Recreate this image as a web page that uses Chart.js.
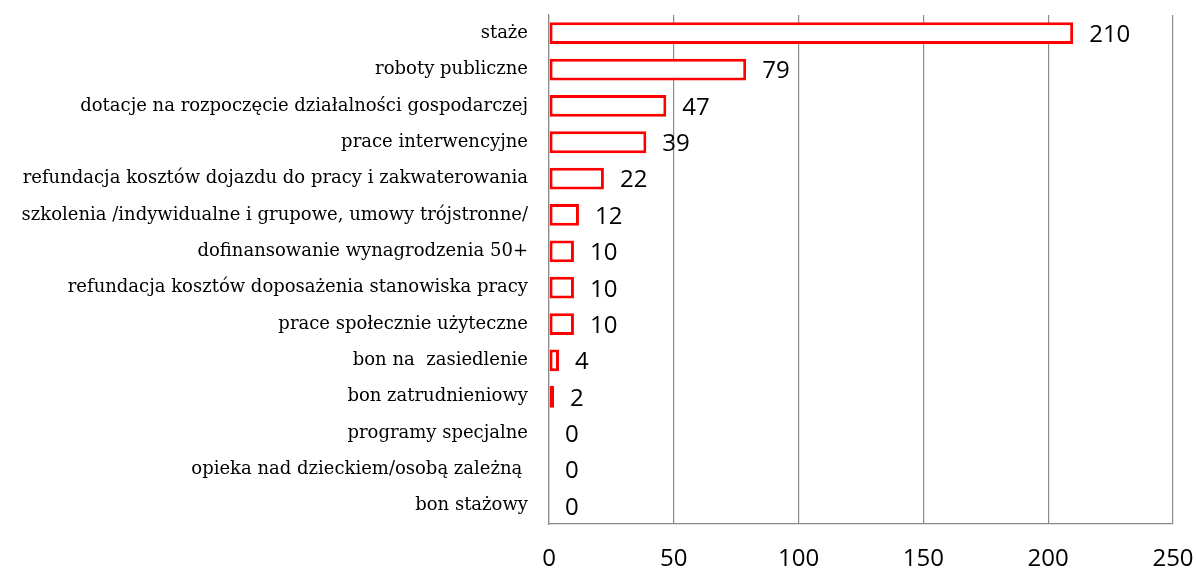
<!DOCTYPE html>
<html>
<head>
<meta charset="utf-8">
<script src="https://cdn.jsdelivr.net/npm/chart.js@4"></script>
<style>
html,body{margin:0;padding:0;background:#fff;}
canvas{display:block;}
</style>
</head>
<body>
<canvas id="c" width="1196" height="569"></canvas>
<script>
const categories = [
  "staże",
  "roboty publiczne",
  "dotacje na rozpoczęcie działalności gospodarczej",
  "prace interwencyjne",
  "refundacja kosztów dojazdu do pracy i zakwaterowania",
  "szkolenia /indywidualne i grupowe, umowy trójstronne/",
  "dofinansowanie wynagrodzenia 50+",
  "refundacja kosztów doposażenia stanowiska pracy",
  "prace społecznie użyteczne",
  "bon na  zasiedlenie",
  "bon zatrudnieniowy",
  "programy specjalne",
  "opieka nad dzieckiem/osobą zależną ",
  "bon stażowy"
];
const values = [210, 79, 47, 39, 22, 12, 10, 10, 10, 4, 2, 0, 0, 0];
const xTicks = [0, 50, 100, 150, 200, 250];

const valueLabels = {
  id: 'valueLabels',
  afterDatasetsDraw(chart) {
    const ctx = chart.ctx;
    const meta = chart.getDatasetMeta(0);
    ctx.save();
    ctx.font = '24px "Open Sans", sans-serif';
    ctx.fillStyle = '#000';
    ctx.textAlign = 'left';
    ctx.textBaseline = 'middle';
    meta.data.forEach((el, i) => {
      ctx.fillText(String(values[i]), el.x + 16, el.y + 2);
    });
    ctx.restore();
  }
};

new Chart(document.getElementById('c'), {
  type: 'bar',
  data: {
    labels: categories,
    datasets: [{
      data: values,
      backgroundColor: '#ffffff',
      borderColor: '#ff0000',
      borderWidth: 3,
      borderSkipped: false,
      barPercentage: 0.6,
      categoryPercentage: 1
    }]
  },
  options: {
    indexAxis: 'y',
    responsive: false,
    animation: false,
    layout: { padding: { top: 15, right: 23, bottom: 0, left: 0 } },
    plugins: { legend: { display: false }, tooltip: { enabled: false } },
    scales: {
      x: {
        min: 0, max: 250,
        afterBuildTicks(scale) { scale.ticks = xTicks.map(v => ({ value: v })); },
        afterFit(scale) { scale.height = 45; scale.paddingLeft = 0; scale.paddingRight = 0; },
        ticks: { color: '#000', font: { family: '"Open Sans", sans-serif', size: 24 }, padding: 21 },
        grid: { color: '#8a8a8a', lineWidth: 1.2, drawTicks: false },
        border: { color: '#8a8a8a', width: 1.2 }
      },
      y: {
        afterFit(scale) { scale.width = 549; scale.paddingTop = 0; scale.paddingBottom = 0; },
        ticks: { color: '#000', font: { family: '"DejaVu Serif", serif', size: 18 }, padding: 21, autoSkip: false },
        grid: { display: false, drawTicks: false },
        border: { color: '#8a8a8a', width: 1.2 }
      }
    }
  },
  plugins: [valueLabels]
});
</script>
</body>
</html>
